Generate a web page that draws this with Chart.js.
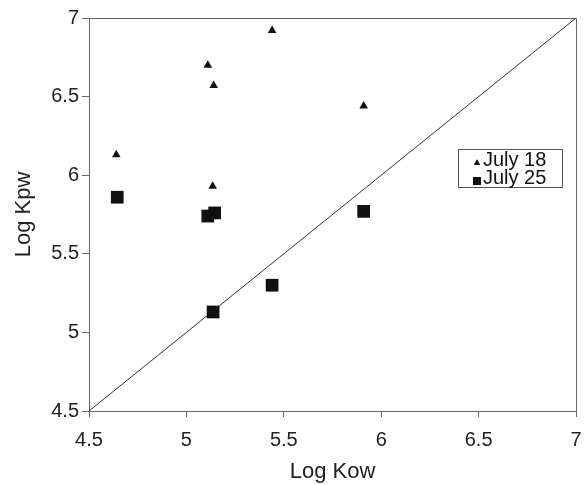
<!DOCTYPE html>
<html>
<head>
<meta charset="utf-8">
<script src="https://cdn.jsdelivr.net/npm/chart.js@4.4.1/dist/chart.umd.min.js"></script>
<style>
  html, body { margin: 0; padding: 0; background: #fff; }
  #wrap { width: 585px; height: 485px; }
</style>
</head>
<body>
<div id="wrap"><canvas id="chart" width="585" height="485"></canvas></div>
<script>
// data
const july18Kow = [4.64, 5.11, 5.14, 5.44, 5.91, 5.135];
const july18Kpw = [6.13, 6.70, 6.57, 6.92, 6.44, 5.93];
const july25Kow = [4.645, 5.11, 5.145, 5.91, 5.44, 5.137];
const july25Kpw = [5.86, 5.74, 5.76, 5.77, 5.30, 5.13];
const oneToOne = [4.5, 7];
const tickValues = [4.5, 5, 5.5, 6, 6.5, 7];

const FONT = '"Liberation Sans", Arial, sans-serif';

function toPoints(xs, ys) {
    return xs.map((x, i) => ({ x: x, y: ys[i] }));
}

// top and right sides of the plot box
const frame = {
    id: 'frame',
    afterDatasetsDraw(chart) {
        const a = chart.chartArea;
        const ctx = chart.ctx;
        ctx.save();
        ctx.strokeStyle = '#666';
        ctx.lineWidth = 1;
        ctx.beginPath();
        ctx.moveTo(a.left, a.top + 0.5);
        ctx.lineTo(a.right + 0.5, a.top + 0.5);
        ctx.lineTo(a.right + 0.5, a.bottom);
        ctx.stroke();
        ctx.restore();
    }
};

// legend box drawn inside the plot, like the original
const boxLegend = {
    id: 'boxLegend',
    afterDraw(chart) {
        const ctx = chart.ctx;
        const a = chart.chartArea;
        const x = a.right - 118, y = a.top + 131;
        const w = 104, h = 38;
        ctx.save();
        ctx.strokeStyle = '#555';
        ctx.lineWidth = 1;
        ctx.strokeRect(x + 0.5, y + 0.5, w, h);
        ctx.font = '20px ' + FONT;
        ctx.fillStyle = '#111';
        ctx.textBaseline = 'alphabetic';
        const items = chart.data.datasets.filter(d => d.inLegend);
        items.forEach((d, i) => {
            const base = y + 17 + i * 18;
            const mx = x + 19;
            ctx.beginPath();
            Chart.helpers.drawPoint(ctx, { pointStyle: d.pointStyle, radius: i === 0 ? 3.5 : 5.7, borderWidth: 0 }, mx, base - 3);
            ctx.fill();
            ctx.fillText(d.label, x + 25, base);
        });
        ctx.restore();
    }
};

const tickFmt = v => String(v);

new Chart(document.getElementById('chart'), {
    type: 'scatter',
    data: {
        datasets: [
            {
                label: 'July 18',
                inLegend: true,
                data: toPoints(july18Kow, july18Kpw),
                pointStyle: 'triangle',
                pointRadius: 5,
                backgroundColor: '#111',
                borderColor: '#111',
                borderWidth: 0
            },
            {
                label: 'July 25',
                inLegend: true,
                data: toPoints(july25Kow, july25Kpw),
                pointStyle: 'rect',
                pointRadius: 9,
                backgroundColor: '#111',
                borderColor: '#111',
                borderWidth: 0
            },
            {
                label: '1:1',
                type: 'line',
                data: toPoints(oneToOne, oneToOne),
                showLine: true,
                pointRadius: 0,
                borderColor: '#333',
                borderWidth: 1
            }
        ]
    },
    options: {
        responsive: false,
        animation: false,
        layout: { padding: { top: 18, right: 9, left: 0, bottom: 0 } },
        plugins: {
            legend: { display: false },
            tooltip: { enabled: false }
        },
        scales: {
            x: {
                type: 'linear',
                min: 4.5,
                max: 7,
                afterBuildTicks: axis => { axis.ticks = tickValues.map(v => ({ value: v })); },
                afterFit: axis => {
                    axis.height = 74;
                    axis.paddingLeft = 0;
                    axis.paddingRight = 0;
                },
                grid: { display: true, drawOnChartArea: false, drawTicks: true, tickLength: 6, color: '#666' },
                border: { display: true, color: '#666', width: 1 },
                ticks: { color: '#222', font: { size: 20, family: FONT }, padding: 11, maxRotation: 0, callback: tickFmt },
                title: { display: true, text: 'Log Kow', color: '#222', font: { size: 22, family: FONT }, padding: { top: 0, bottom: 0 } }
            },
            y: {
                type: 'linear',
                min: 4.5,
                max: 7,
                afterBuildTicks: axis => { axis.ticks = tickValues.map(v => ({ value: v })); },
                afterFit: axis => {
                    axis.width = 89;
                    axis.paddingTop = 0;
                    axis.paddingBottom = 0;
                },
                grid: { display: true, drawOnChartArea: false, drawTicks: true, tickLength: 7, color: '#666' },
                border: { display: true, color: '#666', width: 1 },
                ticks: { color: '#222', font: { size: 20, family: FONT }, padding: 3, callback: tickFmt },
                title: { display: true, text: 'Log Kpw', color: '#222', font: { size: 22, family: FONT }, padding: { top: 11, bottom: 0 } }
            }
        }
    },
    plugins: [frame, boxLegend]
});
</script>
</body>
</html>
